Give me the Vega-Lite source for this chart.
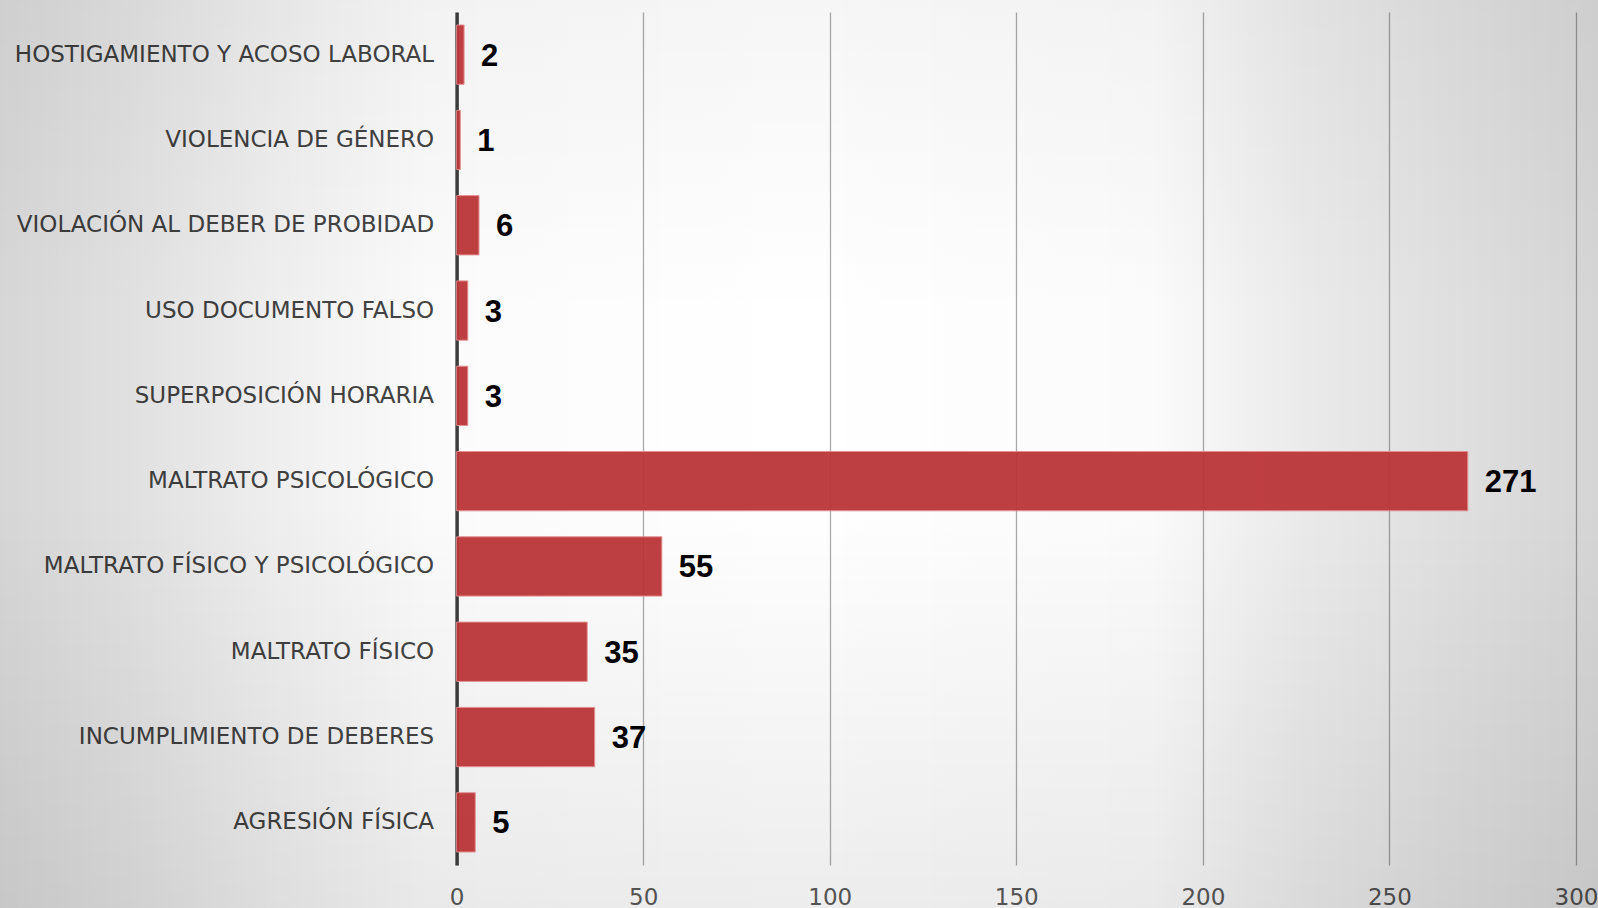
{
  "$schema": "https://vega.github.io/schema/vega-lite/v6.json",
  "width": 1598,
  "height": 877,
  "autosize": {"type": "none"},
  "padding": {"left": 0, "top": 0, "right": 0, "bottom": 31},
  "background": "#ffffff",
  "config": {"view": {"stroke": null, "fill": null}},
  "resolve": {"scale": {"y": "independent"}, "axis": {"y": "independent", "x": "independent"}},
  "layer": [
    {
      "data": {"values": [{"fondo": 1}]},
      "encoding": {
        "y": {"datum": 0, "type": "quantitative", "scale": {"domain": [0, 1], "range": [0, 908], "nice": false, "zero": false}, "axis": null},
        "y2": {"datum": 1}
      },
      "layer": [
        {
          "mark": {
            "type": "rect",
            "color": {
              "gradient": "linear",
              "x1": 0, "y1": 0, "x2": 1, "y2": 0,
              "stops": [
                {"offset": 0, "color": "rgba(0,0,0,0.16)"},
                {"offset": 0.08, "color": "rgba(0,0,0,0.12)"},
                {"offset": 0.17, "color": "rgba(0,0,0,0.067)"},
                {"offset": 0.27, "color": "rgba(0,0,0,0.016)"},
                {"offset": 0.5, "color": "rgba(0,0,0,0)"},
                {"offset": 0.72, "color": "rgba(0,0,0,0.016)"},
                {"offset": 0.81, "color": "rgba(0,0,0,0.078)"},
                {"offset": 0.91, "color": "rgba(0,0,0,0.125)"},
                {"offset": 1, "color": "rgba(0,0,0,0.165)"}
              ]
            }
          }
        },
        {
          "mark": {
            "type": "rect",
            "color": {
              "gradient": "linear",
              "x1": 0, "y1": 0, "x2": 0, "y2": 1,
              "stops": [
                {"offset": 0, "color": "rgba(0,0,0,0.035)"},
                {"offset": 0.35, "color": "rgba(0,0,0,0)"},
                {"offset": 0.55, "color": "rgba(0,0,0,0)"},
                {"offset": 1, "color": "rgba(0,0,0,0.07)"}
              ]
            }
          }
        }
      ]
    },
    {
      "data": {
        "values": [
          {"categoria": "HOSTIGAMIENTO Y ACOSO LABORAL", "casos": 2},
          {"categoria": "VIOLENCIA DE GÉNERO", "casos": 1},
          {"categoria": "VIOLACIÓN AL DEBER DE PROBIDAD", "casos": 6},
          {"categoria": "USO DOCUMENTO FALSO", "casos": 3},
          {"categoria": "SUPERPOSICIÓN HORARIA", "casos": 3},
          {"categoria": "MALTRATO PSICOLÓGICO", "casos": 271},
          {"categoria": "MALTRATO FÍSICO Y PSICOLÓGICO", "casos": 55},
          {"categoria": "MALTRATO FÍSICO", "casos": 35},
          {"categoria": "INCUMPLIMIENTO DE DEBERES", "casos": 37},
          {"categoria": "AGRESIÓN FÍSICA", "casos": 5}
        ]
      },
      "encoding": {
        "y": {
          "field": "categoria",
          "type": "nominal",
          "sort": null,
          "scale": {"range": [12, 865], "paddingInner": 0.305, "paddingOuter": 0.1525},
          "axis": {
            "title": null,
            "orient": "left",
            "offset": -456.6,
            "ticks": false,
            "labelPadding": 23,
            "labelFont": "DejaVu Sans",
            "labelFontSize": 23,
            "labelColor": "#444444",
            "labelLimit": 600,
            "domain": true,
            "domainColor": "#3e3e3e",
            "domainWidth": 3.5,
            "grid": false
          }
        },
        "x": {
          "field": "casos",
          "type": "quantitative",
          "scale": {"domain": [0, 300], "range": [456.6, 1576], "nice": false, "zero": true},
          "axis": {
            "title": null,
            "orient": "bottom",
            "values": [0, 50, 100, 150, 200, 250, 300],
            "ticks": false,
            "domain": false,
            "labelBaseline": "alphabetic",
            "labelPadding": 27,
            "labelFont": "DejaVu Sans",
            "labelFontSize": 23,
            "labelColor": "#595959",
            "labelFlush": false,
            "grid": true,
            "gridColor": "#ababab",
            "gridWidth": 1.3
          }
        }
      },
      "layer": [
        {
          "mark": {"type": "bar", "color": "#bb3437", "opacity": 0.94, "stroke": "#e38a8a", "strokeWidth": 1}
        },
        {
          "mark": {"type": "text", "align": "left", "baseline": "middle", "dx": 17, "dy": 2, "font": "Liberation Sans", "fontSize": 31, "fontWeight": "bold", "color": "#000000"},
          "encoding": {"text": {"field": "casos", "type": "quantitative"}}
        }
      ]
    }
  ]
}
